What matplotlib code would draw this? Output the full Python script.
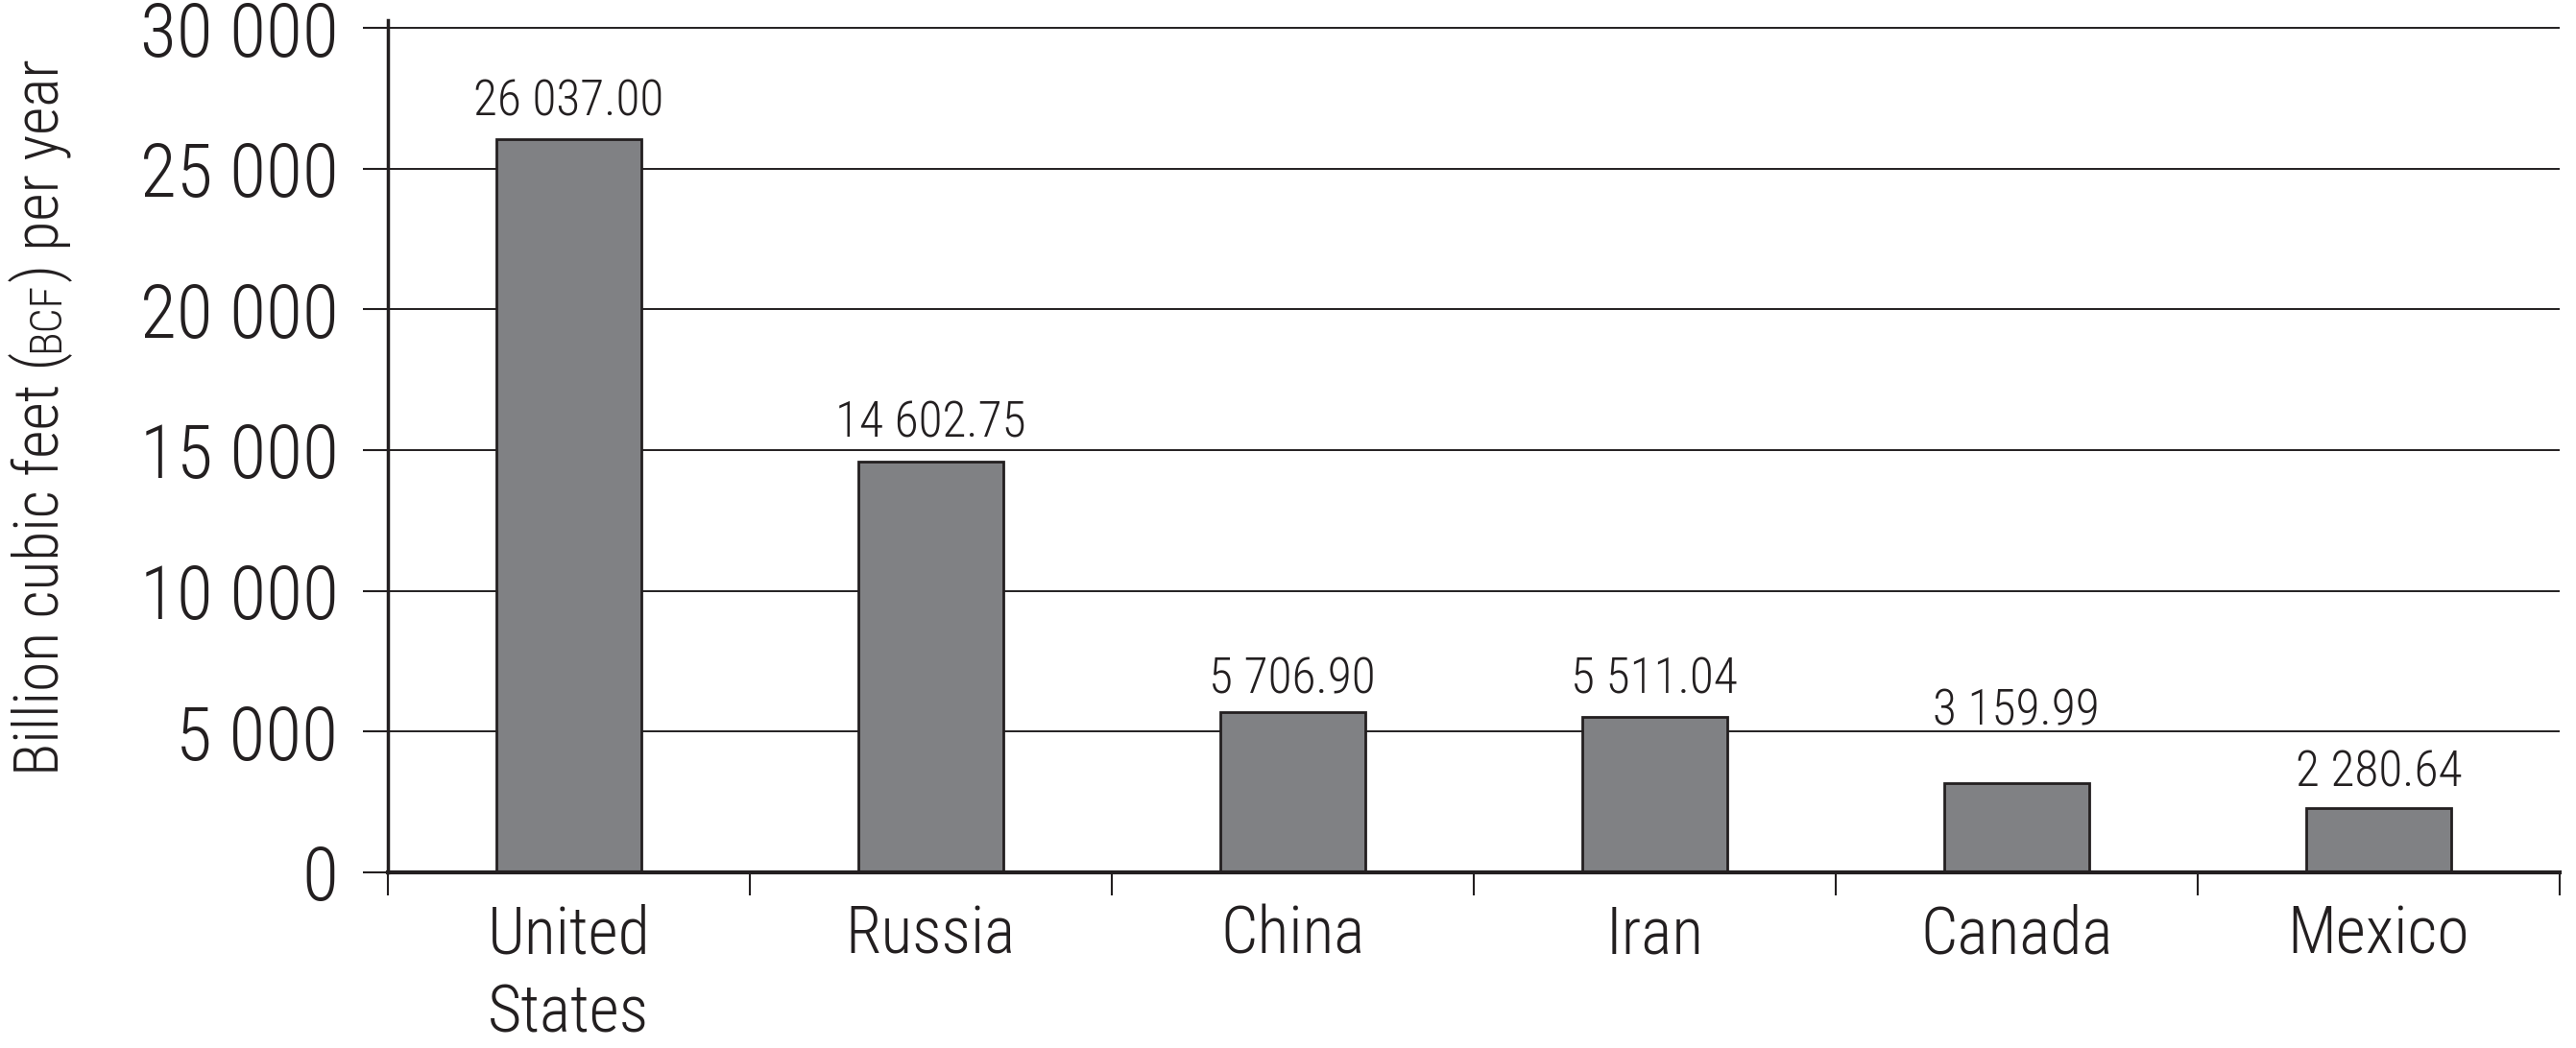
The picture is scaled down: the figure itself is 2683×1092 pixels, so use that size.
import matplotlib
matplotlib.use("Agg")
import matplotlib.pyplot as plt
import numpy as np

plt.rcParams['font.family'] = ['Roboto Condensed', 'DejaVu Sans']
plt.rcParams['font.weight'] = 300

countries = ['United\nStates', 'Russia', 'China', 'Iran', 'Canada', 'Mexico']
production = [26037.00, 14602.75, 5706.90, 5511.04, 3159.99, 2280.64]
value_labels = ['26 037.00', '14 602.75', '5 706.90', '5 511.04', '3 159.99', '2 280.64']
y_ticks = [0, 5000, 10000, 15000, 20000, 25000, 30000]
y_tick_labels = ['0', '5 000', '10 000', '15 000', '20 000', '25 000', '30 000']

# label gap above each bar (points), as in the original layout
label_pad = [10, 10, 6, 10, 36, 8]

W, H = 2683, 1092
fig = plt.figure(figsize=(W / 100, H / 100), dpi=100)
ax = fig.add_axes([0.1505, 0.1677, 0.9936 - 0.1505, 0.981 - 0.1677])

x = np.arange(len(countries))
bars = ax.bar(x, production, width=0.4, color='#808184', edgecolor='#231f20',
              linewidth=2, zorder=3)

for b, txt, pad in zip(bars, value_labels, label_pad):
    ax.annotate(txt, (b.get_x() + b.get_width() / 2, b.get_height()),
                xytext=(0, pad), textcoords='offset points',
                ha='center', va='bottom', fontsize=37, color='#231f20',
                fontweight=300)

ax.set_xlim(-0.5, len(countries) - 0.5)
ax.set_ylim(0, 30290)

ax.set_yticks(y_ticks)
ax.set_yticklabels(y_tick_labels, fontsize=56, color='#231f20', fontweight=300)
ax.tick_params(axis='y', direction='out', length=19, width=1.5, pad=18,
               color='#231f20')

ax.set_xticks(np.arange(-0.5, len(countries), 1.0))
ax.set_xticklabels([])
ax.set_xticks(x, minor=True)
ax.set_xticklabels(countries, minor=True, fontsize=49, color='#231f20',
                   linespacing=1.32, va='top', fontweight=300)
ax.tick_params(axis='x', which='major', direction='out', length=17, width=1.5,
               color='#231f20')
ax.tick_params(axis='x', which='minor', length=0, pad=24)

ax.yaxis.grid(True, color='#231f20', linewidth=1.4, zorder=0)
ax.set_axisbelow(True)

for s in ['top', 'right']:
    ax.spines[s].set_visible(False)
ax.spines['left'].set_linewidth(2.5)
ax.spines['bottom'].set_linewidth(3)
ax.spines['left'].set_color('#231f20')
ax.spines['bottom'].set_color('#231f20')
ax.spines['bottom'].set_zorder(4)

# y label with small-caps "BCF", built from rotated pieces
pieces = [('Billion cubic feet (', 46), ('BCF', 33), (') per year', 46)]
renderer = fig.canvas.get_renderer()
parts, lengths = [], []
for s, fs in pieces:
    t = fig.text(0, 0, s, rotation=90, rotation_mode='anchor', ha='left',
                 va='baseline', fontsize=fs, color='#231f20', fontweight=300)
    parts.append(t)
    lengths.append(t.get_window_extent(renderer).height)
base_x = 61
pos = 0.602 * H - sum(lengths) / 2
for t, L in zip(parts, lengths):
    t.set_position((base_x / W, pos / H))
    pos += L

fig.savefig('out.png', dpi=100)
